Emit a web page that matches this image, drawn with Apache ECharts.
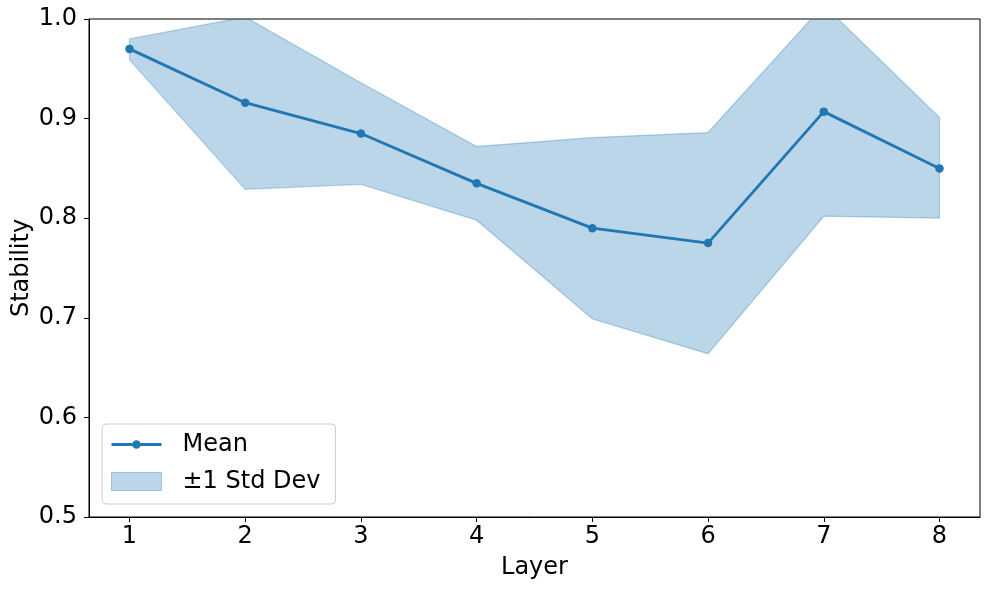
<!DOCTYPE html>
<html>
<head>
<meta charset="utf-8">
<script src="https://cdn.jsdelivr.net/npm/echarts@6/dist/echarts.min.js"></script>
<style>
html,body{margin:0;padding:0;background:#fff;}
#chart{width:989px;height:590px;}
</style>
</head>
<body>
<div id="chart"></div>
<script>
const layers = [1, 2, 3, 4, 5, 6, 7, 8];
const meanValues = [0.970, 0.916, 0.885, 0.835, 0.790, 0.775, 0.907, 0.850];
const upperValues = [0.980, 1.002, 0.936, 0.872, 0.881, 0.886, 1.014, 0.901];
const lowerValues = [0.959, 0.829, 0.834, 0.798, 0.699, 0.664, 0.802, 0.800];

const FONT = 'DejaVu Sans';
const BLUE = '#1f77b4';
const BAND = 'rgba(31,119,180,0.3)';

// legend icon for the mean line: line + circle marker in a 50x18 box
const MEAN_ICON = 'path://M0 0 L0.01 0 L0 0.01 Z M50 18 L49.99 18 L50 17.99 Z ' +
  'M0 7.6 L20.9 7.6 L20.9 10.4 L0 10.4 Z M29.1 7.6 L50 7.6 L50 10.4 L29.1 10.4 Z ' +
  'M29.25 9 A4.25 4.25 0 1 1 20.75 9 A4.25 4.25 0 1 1 29.25 9 Z';

const chart = echarts.init(document.getElementById('chart'), null, {renderer: 'canvas'});

const option = {
  animation: false,
  backgroundColor: '#ffffff',
  grid: {
    left: 89, top: 19, right: 9, bottom: 73,
    show: true, borderColor: '#000000', borderWidth: 1, backgroundColor: 'transparent',
    containLabel: false,
    outerBoundsMode: 'none'
  },
  legend: {
    orient: 'vertical',
    left: 102, top: 424,
    padding: [8, 15, 10, 9],
    itemWidth: 50, itemHeight: 18, itemGap: 12,
    backgroundColor: 'rgba(255,255,255,0.8)',
    borderColor: '#cccccc', borderWidth: 1, borderRadius: 4,
    textStyle: {fontFamily: FONT, fontSize: 24, color: '#000', lineHeight: 25, padding: [0, 0, 0, 16]},
    data: [
      {name: 'Mean', icon: MEAN_ICON, itemStyle: {color: BLUE, borderWidth: 0}},
      {name: '±1 Std Dev', icon: 'rect', itemStyle: {color: BAND, borderColor: 'rgba(31,119,180,0.35)', borderWidth: 1}}
    ]
  },
  xAxis: {
    type: 'value',
    min: 0.65, max: 8.35,
    name: 'Layer',
    nameLocation: 'middle',
    nameGap: 39,
    nameMoveOverlap: false,
    nameTextStyle: {fontFamily: FONT, fontSize: 24, color: '#000'},
    axisLine: {show: true, lineStyle: {color: '#000', width: 1}},
    axisTick: {show: true, customValues: layers, length: 5, lineStyle: {color: '#000', width: 1}},
    axisLabel: {customValues: layers, fontFamily: FONT, fontSize: 24, color: '#000', margin: 8},
    splitLine: {show: false}
  },
  yAxis: {
    type: 'value',
    min: 0.5, max: 1.0, interval: 0.1,
    name: 'Stability',
    nameLocation: 'middle',
    nameGap: 55,
    nameRotate: 90,
    nameMoveOverlap: false,
    nameTextStyle: {fontFamily: FONT, fontSize: 24, color: '#000'},
    axisLine: {show: true, lineStyle: {color: '#000', width: 1}},
    axisTick: {show: true, length: 5, lineStyle: {color: '#000', width: 1}},
    axisLabel: {fontFamily: FONT, fontSize: 24, color: '#000', margin: 12,
      formatter: v => v.toFixed(1)},
    splitLine: {show: false}
  },
  series: [
    {
      name: '±1 Std Dev',
      type: 'custom',
      clip: true,
      itemStyle: {color: BAND},
      data: layers.map((x, i) => [x, lowerValues[i], upperValues[i]]),
      renderItem: function (params, api) {
        if (params.dataIndex !== 0) return null;
        const pts = [];
        for (let i = 0; i < layers.length; i++) pts.push(api.coord([layers[i], upperValues[i]]));
        for (let i = layers.length - 1; i >= 0; i--) pts.push(api.coord([layers[i], lowerValues[i]]));
        const cs = params.coordSys;
        return {
          type: 'polygon',
          shape: {points: pts},
          style: {fill: BAND, stroke: BAND, lineWidth: 1.3},
          clipPath: {type: 'rect', shape: {x: cs.x, y: cs.y, width: cs.width, height: cs.height}},
          z2: 1
        };
      },
      z: 1
    },
    {
      name: 'Mean',
      type: 'line',
      data: layers.map((x, i) => [x, meanValues[i]]),
      symbol: 'circle',
      symbolSize: 8.5,
      showSymbol: true,
      lineStyle: {color: BLUE, width: 2.8},
      itemStyle: {color: BLUE},
      z: 3
    }
  ]
};
chart.setOption(option);
</script>
</body>
</html>
